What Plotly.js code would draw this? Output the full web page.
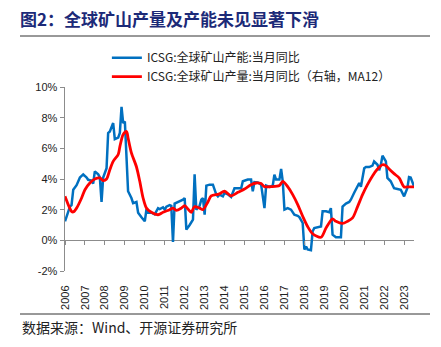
<!DOCTYPE html>
<html><head><meta charset="utf-8">
<script src="https://cdn.plot.ly/plotly-3.0.1.min.js"></script>
<style>html,body{margin:0;padding:0;background:#fff}#chart{width:441px;height:347px}</style>
</head><body><div id="chart"></div>
<script>
const capDates = ['2006-01','2006-03','2006-04','2006-05','2006-06','2006-08','2006-10','2006-11','2006-12','2007-02','2007-03','2007-05','2007-06','2007-07','2007-09','2007-10','2007-11','2007-12','2008-02','2008-03','2008-04','2008-06','2008-07','2008-09','2008-10','2008-11','2008-12','2009-01','2009-02','2009-03','2009-05','2009-06','2009-08','2009-09','2009-11','2009-12','2010-01','2010-02','2010-03','2010-05','2010-07','2010-09','2010-10','2010-12','2011-01','2011-02','2011-04','2011-05','2011-06','2011-07','2011-10','2011-12','2012-01','2012-02','2012-04','2012-06','2012-07','2012-08','2012-10','2012-11','2012-12','2013-01','2013-02','2013-04','2013-06','2013-08','2013-09','2013-10','2013-12','2014-01','2014-03','2014-05','2014-07','2014-09','2014-11','2014-12','2015-03','2015-05','2015-06','2015-07','2015-09','2015-11','2016-01','2016-02','2016-04','2016-06','2016-07','2016-08','2016-10','2016-11','2016-12','2017-01','2017-03','2017-05','2017-07','2017-09','2017-10','2017-12','2018-01','2018-02','2018-03','2018-05','2018-06','2018-07','2018-09','2018-11','2018-12','2019-02','2019-04','2019-05','2019-06','2019-08','2019-10','2019-11','2019-12','2020-02','2020-04','2020-05','2020-07','2020-08','2020-10','2020-11','2021-01','2021-02','2021-04','2021-06','2021-07','2021-09','2021-10','2021-11','2021-12','2022-02','2022-03','2022-05','2022-07','2022-09','2022-11','2023-01','2023-03','2023-04','2023-05','2023-07'];
const capValues = [1.24,1.8,2.2,2.3,3.3,3.6,4.1,4.2,4.3,4.1,3.95,3.9,3.7,4.5,4.3,4.1,2.5,4.1,4.7,7.0,7.1,7.65,6.6,6.7,7.0,8.7,7.65,7.75,5.5,3.2,2.76,2.43,2.5,1.8,1.5,1.35,1.24,2.04,1.8,1.8,1.7,2.1,2.04,2.15,2.0,2.2,2.3,2.25,-0.1,2.4,2.55,2.65,2.76,0.7,1.0,1.35,4.3,2.0,2.26,2.65,2.76,1.67,3.57,3.63,3.63,3.0,2.87,2.98,2.87,3.1,3.0,2.83,3.4,3.4,3.4,3.85,3.96,3.96,3.2,3.8,3.78,3.63,2.1,3.57,3.48,3.57,4.28,3.96,3.96,4.65,3.85,2.0,2.1,2.0,1.67,1.6,1.52,1.13,-0.6,-0.4,-0.6,-0.65,0.59,0.8,0.85,0.9,1.9,1.9,1.83,2.1,0.37,0.2,0.2,0.2,2.2,2.4,2.5,2.65,3.1,3.3,3.74,3.5,4.7,4.78,4.78,4.87,5.15,4.93,4.57,4.93,5.52,5.15,4.07,3.85,3.4,3.35,3.3,2.87,3.4,4.13,4.1,3.52];
const prodDates = ['2006-01','2006-03','2006-05','2006-06','2006-08','2006-11','2007-01','2007-04','2007-07','2007-10','2007-12','2008-02','2008-04','2008-06','2008-09','2008-10','2008-12','2009-02','2009-03','2009-05','2009-08','2009-10','2009-12','2010-02','2010-05','2010-09','2010-12','2011-04','2011-06','2011-08','2011-11','2012-01','2012-03','2012-05','2012-07','2012-10','2012-12','2013-03','2013-05','2013-09','2013-10','2014-01','2014-05','2014-09','2015-01','2015-05','2015-08','2015-11','2016-01','2016-05','2016-10','2016-12','2017-03','2017-06','2017-09','2017-12','2018-03','2018-06','2018-11','2019-02','2019-06','2019-08','2019-12','2020-03','2020-06','2020-09','2020-12','2021-03','2021-06','2021-09','2021-12','2022-02','2022-04','2022-07','2022-10','2023-01','2023-03','2023-07'];
const prodValues = [2.87,2.33,1.89,1.85,2.1,2.76,3.3,3.74,4.0,4.07,3.9,4.0,4.6,5.15,5.6,6.1,6.9,7.1,6.67,5.7,4.8,3.85,2.76,2.1,1.83,1.67,1.83,2.0,2.1,1.96,2.1,2.26,2.04,1.83,2.2,2.1,2.0,2.5,2.9,3.0,3.04,3.2,2.9,3.13,3.35,3.63,3.74,3.7,3.5,3.5,3.57,3.85,3.5,2.98,2.33,1.57,0.9,0.43,0.2,0.8,1.4,1.24,1.1,1.24,1.46,2.2,2.98,3.63,4.2,4.65,4.93,4.87,4.65,4.35,4.07,3.48,3.48,3.48];
const yearTicks = ['2006','2007','2008','2009','2010','2011','2012','2013','2014','2015','2016','2017','2018','2019','2020','2021','2022','2023'];
const yTickVals = [-2,0,2,4,6,8,10];
const yTickText = ['-2%','0%','2%','4%','6%','8%','10%'];
const capName = 'ICSG:全球矿山产能:当月同比';
const prodName = 'ICSG:全球矿山产量:当月同比（右轴，MA12）';
const titleText = '图2：全球矿山产量及产能未见显著下滑';
const sourceText = '数据来源：Wind、开源证券研究所';

const tickvals = yearTicks.map(y => y + '-01-01');
const xr = ['2006-01-01','2023-07-01'];
const cjk = '"Noto Sans CJK SC", "Liberation Sans", sans-serif';
const latin = '"Liberation Sans", Arial, sans-serif';
const traces = [
  {x: capDates, y: capValues, name: capName, type:'scatter', mode:'lines', line:{color:'#0070C0', width:2.5}, xaxis:'x', yaxis:'y'},
  {x: prodDates, y: prodValues, name: prodName, type:'scatter', mode:'lines', line:{color:'#FF0000', width:2.8, shape:'spline', smoothing:0.8}, xaxis:'x2', yaxis:'y'}
];
const layout = {
  width:441, height:347,
  margin:{l:65, r:27, t:87, b:76},
  paper_bgcolor:'#fff', plot_bgcolor:'#fff',
  showlegend:true,
  title:{text:titleText, x:20/441, xref:'container', xanchor:'left', y:1-20/347, yref:'container', yanchor:'middle',
         font:{family:cjk, size:17, color:'#1C2A78', weight:'bold'}},
  legend:{x:0.12, xanchor:'left', y:1.238, yanchor:'top', font:{family:cjk, size:12, color:'#222'}, bgcolor:'rgba(0,0,0,0)', itemwidth:30, tracegroupgap:0},
  xaxis:{type:'date', range:xr, tickvals:tickvals, ticktext:yearTicks, tickangle:-90, showgrid:false, showline:false, zeroline:false,
         ticks:'outside', ticklen:9, tickcolor:'rgba(0,0,0,0)', tickfont:{family:latin, size:11, color:'#222'}},
  xaxis2:{type:'date', range:xr, overlaying:'x', anchor:'free', position:2/12, tickvals:tickvals, showticklabels:false, showgrid:false, showline:false, zeroline:false,
          ticks:'outside', ticklen:4, tickcolor:'#8C8C8C', tickwidth:1},
  yaxis:{range:[-2,10], tickvals:yTickVals, ticktext:yTickText, showgrid:false, showline:true, linecolor:'#8C8C8C', linewidth:1.5,
         ticks:'outside', ticklen:4, tickcolor:'#8C8C8C', zeroline:true, zerolinecolor:'#8C8C8C', zerolinewidth:1.5,
         tickfont:{family:latin, size:11, color:'#222'}},
  shapes:[
    {type:'line', xref:'paper', yref:'paper', x0:(20-65)/349, x1:(430-65)/349, y0:(271-36)/184, y1:(271-36)/184, line:{color:'#333', width:1}},
    {type:'line', xref:'paper', yref:'paper', x0:(20-65)/349, x1:(430-65)/349, y0:(271-314)/184, y1:(271-314)/184, line:{color:'#333', width:1}}
  ],
  annotations:[
    {text:sourceText, xref:'paper', yref:'paper', x:(20-65)/349, y:(271-327)/184, xanchor:'left', yanchor:'middle', showarrow:false,
     font:{family:cjk, size:14, color:'#222'}}
  ]
};
Plotly.newPlot('chart', traces, layout, {staticPlot:true, displayModeBar:false});
</script></body></html>
